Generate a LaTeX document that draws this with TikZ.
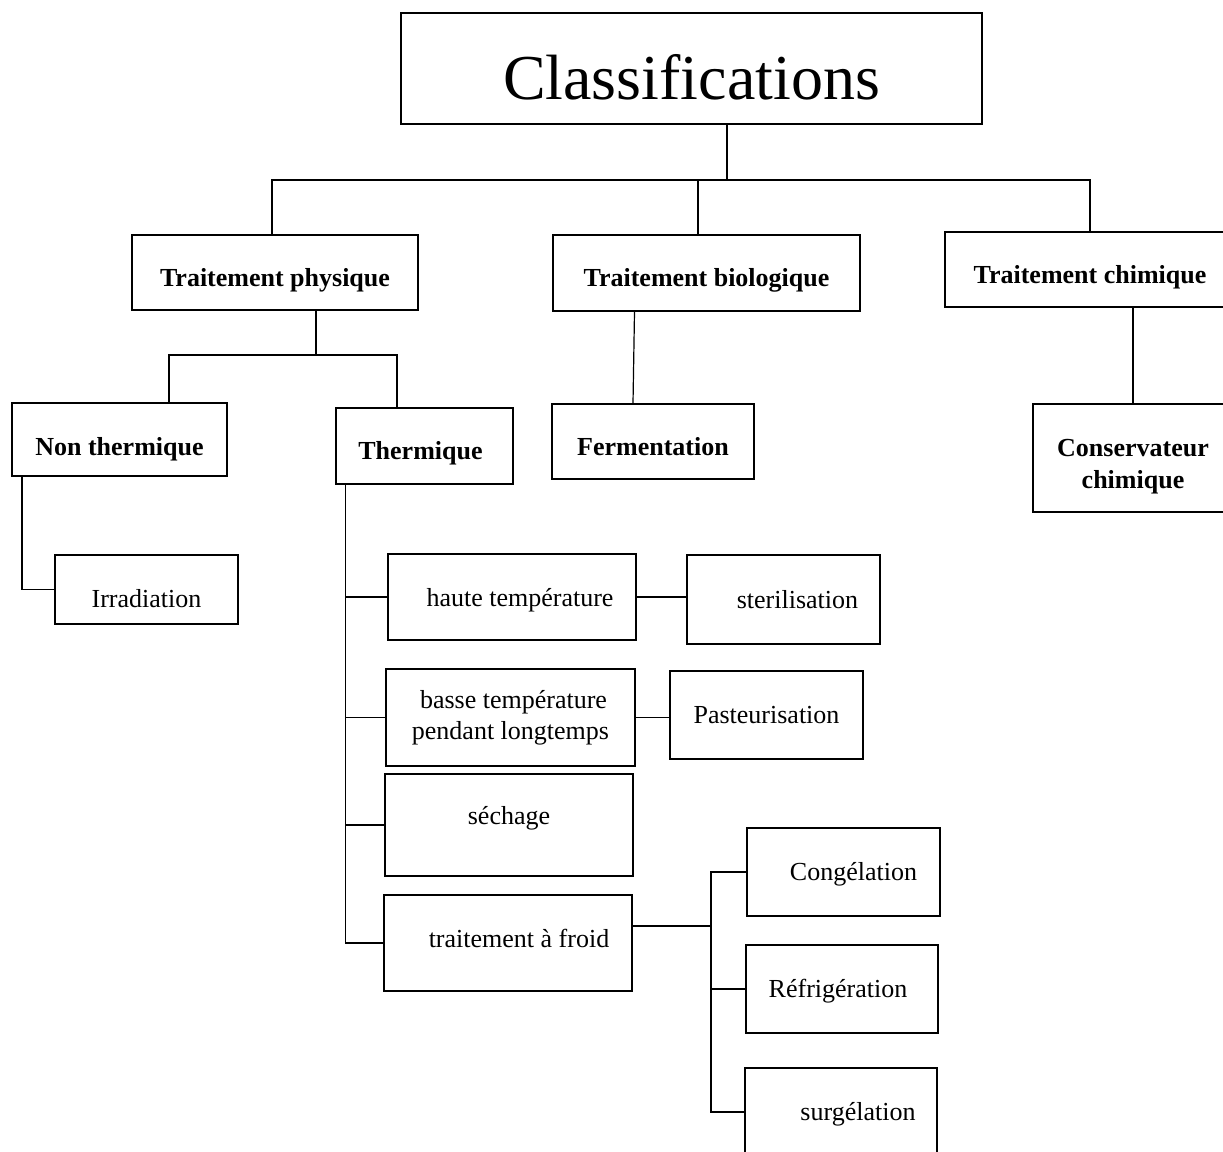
\documentclass[tikz,border=0pt]{standalone}
\usepackage{fontspec}
\setmainfont{Liberation Serif}
\usepackage{tikz}

\newcommand{\lowtext}[2]{\raisebox{-#1}[\height][\depth]{#2}}

\begin{document}
\begin{tikzpicture}[x=1pt,y=-1pt,
    cbox/.style={draw,line width=1.6pt,font=\fontsize{26}{31}\selectfont,align=center,inner sep=0pt},
    bbox/.style={cbox,font=\fontsize{26}{32}\selectfont\bfseries},
    link/.style={line width=1.2pt}]
                \useasboundingbox (0,0) rectangle (1223,1151);

                \node[cbox,minimum width=581,minimum height=111,font=\fontsize{64}{70}\selectfont] (classif) at (691.5,68.5) {\lowtext{9pt}{Classifications}};

                \node[bbox,minimum width=286,minimum height=75] (phys) at (275,272.5) {\lowtext{8pt}{Traitement physique}};
                \node[bbox,minimum width=307,minimum height=76] (bio) at (706.5,273) {\lowtext{7pt}{Traitement biologique}};
                \node[bbox,minimum width=290,minimum height=75] (chim) at (1090,269.5) {\lowtext{8pt}{Traitement chimique}};

                \node[bbox,minimum width=215,minimum height=73] (nonth) at (119.5,439.5) {\lowtext{10pt}{Non thermique}};
                \node[bbox,minimum width=177,minimum height=76] (therm) at (424.5,446) {\lowtext{7pt}{Thermique}\hspace*{8pt}};
                \node[bbox,minimum width=202,minimum height=75] (ferm) at (653,441.5) {\lowtext{5pt}{Fermentation}};
                \node[bbox,minimum width=200,minimum height=108] (cons) at (1133,458) {\lowtext{8pt}{\begin{tabular}{@{}c@{}}Conservateur\\chimique\end{tabular}}};

                \node[cbox,minimum width=183,minimum height=69] (irrad) at (146.5,589.5) {\lowtext{9pt}{Irradiation}};

                \node[cbox,minimum width=248,minimum height=86] (haute) at (512,597) {\hspace*{16pt}\lowtext{3pt}{haute température}};
                \node[cbox,minimum width=193,minimum height=89] (steril) at (783.5,599.5) {\hspace*{28pt}sterilisation};
                \node[cbox,minimum width=249,minimum height=97] (basse) at (510.5,717.5) {\hspace*{6pt}basse température\\pendant longtemps};
                \node[cbox,minimum width=193,minimum height=88] (pasteur) at (766.5,715) {Pasteurisation};
                \node[cbox,minimum width=248,minimum height=102] (sech) at (509,825) {\lowtext{-7pt}{séchage}};
                \node[cbox,minimum width=248,minimum height=96] (froid) at (508,943) {\hspace*{22pt}\lowtext{-5pt}{traitement à froid}};

                \node[cbox,minimum width=193,minimum height=88] (cong) at (843.5,872) {\hspace*{20pt}\lowtext{2pt}{Congélation}};
                \node[cbox,minimum width=192,minimum height=88] (refrig) at (842,989) {\lowtext{2pt}{Réfrigération}\hspace*{8pt}};
                \node[cbox,minimum width=192,minimum height=88] (surg) at (841,1112) {\hspace*{34pt}\lowtext{2pt}{surgélation}};

                % level 1
                \coordinate (hub) at (727,180);
                \draw[link] (classif.south -| hub) -- (hub);
                \draw[link] ([xshift=-3]phys.north) |- (hub) -| (chim.north);
                \draw[link] ([xshift=-8.5]bio.north) -- ([xshift=-8.5]bio.north |- hub);

                % physique
                \coordinate (hubp) at (316,355);
                \draw[link] (phys.south -| hubp) -- (hubp);
                \draw[link] ([xshift=49.5]nonth.north) |- (hubp) -| ([xshift=-27.5]therm.north);
                \draw[link] ([xshift=-97.5]nonth.south) |- (irrad.west);

                % biologique, chimique
                \draw[link] ([xshift=-72]bio.south) -- ([xshift=-20]ferm.north);
                \draw[link] ([xshift=43]chim.south) -- (cons.north);

                % thermique
                \coordinate (tspine) at ([xshift=-79]therm.south);
                \draw[link] (tspine) |- (froid.west);
                \foreach \n in {haute,basse,sech}
                    \draw[link] (\n.west) -- (\n.west -| tspine);
                \draw[link] (haute.east) -- (haute.east -| steril.west);
                \draw[link] (basse.east) -- (basse.east -| pasteur.west);

                % froid
                \coordinate (cspine) at (711,926);
                \draw[link] ([yshift=17]froid.east) -- (cspine);
                \draw[link] (cong.west) -| (cspine) |- (surg.west);
                \draw[link] (refrig.west) -- (refrig.west -| cspine);
\end{tikzpicture}
\end{document}
